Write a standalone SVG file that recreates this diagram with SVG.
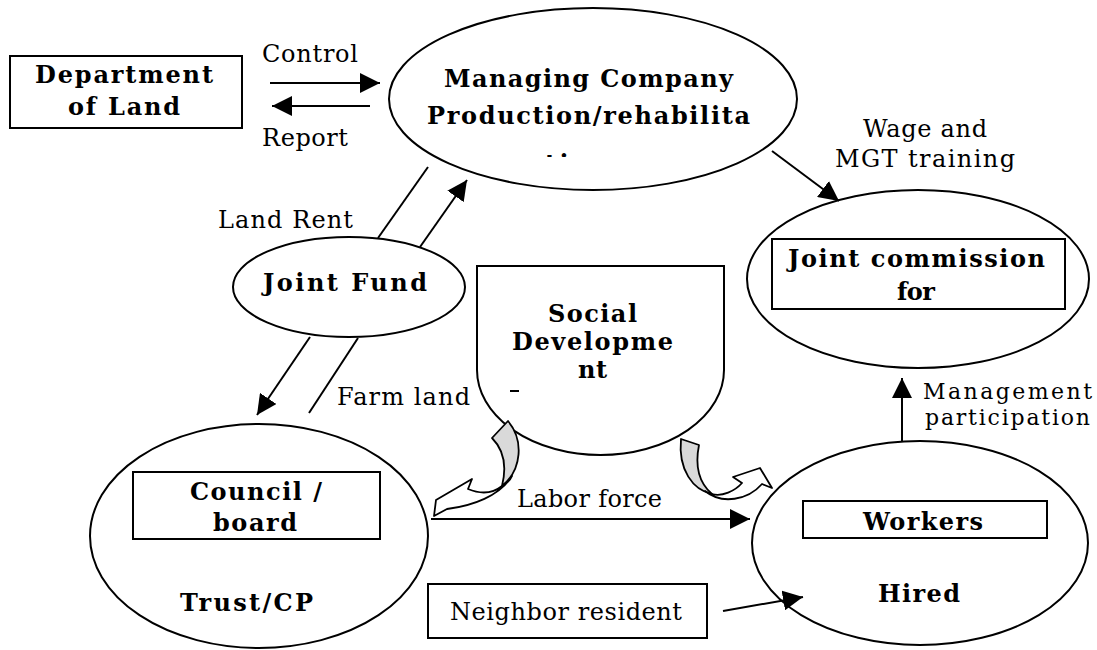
<svg xmlns="http://www.w3.org/2000/svg" width="1097" height="650" viewBox="0 0 1097 650">
<style>
.shape{fill:#fff;stroke:#000;stroke-width:2}
.box{fill:#fff;stroke:#000;stroke-width:2}
.ln{fill:none;stroke:#000;stroke-width:2}
.b{font-family:"DejaVu Serif","Liberation Serif",serif;font-weight:bold;font-size:24px;fill:#000}
.r{font-family:"DejaVu Serif","Liberation Serif",serif;font-size:24px;fill:#000}
.rs{font-family:"DejaVu Serif","Liberation Serif",serif;font-size:22px;fill:#000}
.cur{fill:#fff;stroke:#000;stroke-width:1.8;stroke-linejoin:round}
.gray{fill:#d9d9d9;stroke:#000;stroke-width:1.8;stroke-linejoin:round}
</style>
<defs>
<marker id="ah" markerUnits="userSpaceOnUse" viewBox="0 0 20 20" refX="20" refY="10" markerWidth="20" markerHeight="20" orient="auto">
<path d="M0,0 L20,10 L0,20 Z" fill="#000"/>
</marker>
<clipPath id="clipTion"><rect x="500" y="140" width="200" height="17"/></clipPath>
</defs>
<rect width="1097" height="650" fill="#fff"/>

<g id="department-of-land">
<rect class="box" x="10" y="56" width="232" height="72"/>
<text class="b" x="35" y="83" textLength="178" lengthAdjust="spacing">Department</text>
<text class="b" x="68" y="115" textLength="112" lengthAdjust="spacing">of Land</text>
</g>

<g id="managing-company">
<ellipse class="shape" cx="593" cy="99" rx="204" ry="91"/>
<text class="b" x="444" y="87" textLength="289" lengthAdjust="spacing">Managing Company</text>
<text class="b" x="427" y="124" textLength="323" lengthAdjust="spacing">Production/rehabilita</text>
<text class="b" x="545" y="172" textLength="64" lengthAdjust="spacing" clip-path="url(#clipTion)">tion</text>
</g>

<g id="joint-commission">
<ellipse class="shape" cx="918" cy="279" rx="171" ry="89"/>
<rect class="box" x="772" y="239" width="293" height="70"/>
<text class="b" x="788" y="267" textLength="257" lengthAdjust="spacing">Joint commission</text>
<text class="b" x="897" y="300" textLength="38" lengthAdjust="spacing">for</text>
</g>

<g id="joint-fund">
<ellipse class="shape" cx="349" cy="287" rx="116" ry="50"/>
<text class="b" x="263" y="291" textLength="164" lengthAdjust="spacing">Joint Fund</text>
</g>

<g id="social-development">
<path class="shape" d="M477,266 H724 V370 A123.5,85 0 0 1 477,370 Z"/>
<text class="b" x="548" y="322" textLength="89" lengthAdjust="spacing">Social</text>
<text class="b" x="512" y="350" textLength="161" lengthAdjust="spacing">Developme</text>
<text class="b" x="578" y="378" textLength="29" lengthAdjust="spacing">nt</text>
<line x1="510" y1="391" x2="519" y2="391" stroke="#000" stroke-width="2"/>
</g>

<g id="trust-cp">
<ellipse class="shape" cx="259" cy="536" rx="169" ry="112"/>
<rect class="box" x="133" y="472" width="247" height="67"/>
<text class="b" x="190" y="500" textLength="132" lengthAdjust="spacing">Council /</text>
<text class="b" x="213" y="531" textLength="84" lengthAdjust="spacing">board</text>
<text class="b" x="180" y="611" textLength="133" lengthAdjust="spacing">Trust/CP</text>
</g>

<g id="hired-workers">
<ellipse class="shape" cx="920" cy="543" rx="168" ry="102"/>
<rect class="box" x="803" y="501" width="244" height="37"/>
<text class="b" x="863" y="530" textLength="120" lengthAdjust="spacing">Workers</text>
<text class="b" x="878" y="602" textLength="82" lengthAdjust="spacing">Hired</text>
</g>

<g id="neighbor-resident">
<rect class="box" x="428" y="584" width="279" height="54"/>
<text class="r" x="450" y="620" textLength="232" lengthAdjust="spacing">Neighbor resident</text>
</g>

<g id="connectors">
<line class="ln" x1="270" y1="83" x2="380" y2="83" marker-end="url(#ah)"/>
<line class="ln" x1="370" y1="106" x2="272" y2="106" marker-end="url(#ah)"/>
<line class="ln" x1="772" y1="151" x2="839" y2="201" marker-end="url(#ah)"/>
<line class="ln" x1="428" y1="167" x2="378" y2="238"/>
<line class="ln" x1="420" y1="247" x2="467" y2="180" marker-end="url(#ah)"/>
<line class="ln" x1="310" y1="337" x2="257" y2="415" marker-end="url(#ah)"/>
<line class="ln" x1="358" y1="338" x2="309" y2="413"/>
<line class="ln" x1="431" y1="519" x2="750" y2="519" marker-end="url(#ah)"/>
<line class="ln" x1="902" y1="442" x2="902" y2="378" marker-end="url(#ah)"/>
<line class="ln" x1="723" y1="611" x2="803" y2="597" marker-end="url(#ah)"/>
<path class="gray" d="M508,421 C524,440 522,470 502,486 C506,470 506,452 492,438 Z"/>
<path class="cur" d="M502,486 C492,494 480,494 468,489 L472,479 L436,500 L434,516 L447,509 C472,506 500,496 512,476 C510,481 506,484 502,486 Z"/>
<path class="gray" d="M681,439 L699,445 C695,465 698,482 712,494 C693,490 678,470 681,439 Z"/>
<path class="cur" d="M712,494 C722,497 735,491 742,483 L733,477 L760,468 L772,488 L762,484 C748,500 722,505 705,491 C708,493 710,494 712,494 Z"/>
</g>

<g id="labels">
<text class="r" x="262" y="62" textLength="96" lengthAdjust="spacing">Control</text>
<text class="r" x="262" y="146" textLength="86" lengthAdjust="spacing">Report</text>
<text class="r" x="863" y="137" textLength="124" lengthAdjust="spacing">Wage and</text>
<text class="r" x="835" y="167" textLength="180" lengthAdjust="spacing">MGT training</text>
<text class="r" x="218" y="228" textLength="135" lengthAdjust="spacing">Land Rent</text>
<text class="r" x="337" y="405" textLength="133" lengthAdjust="spacing">Farm land</text>
<text class="r" x="517" y="507" textLength="145" lengthAdjust="spacing">Labor force</text>
<text class="rs" x="923" y="399" textLength="169" lengthAdjust="spacing">Management</text>
<text class="rs" x="925" y="425" textLength="165" lengthAdjust="spacing">participation</text>
</g>
</svg>
